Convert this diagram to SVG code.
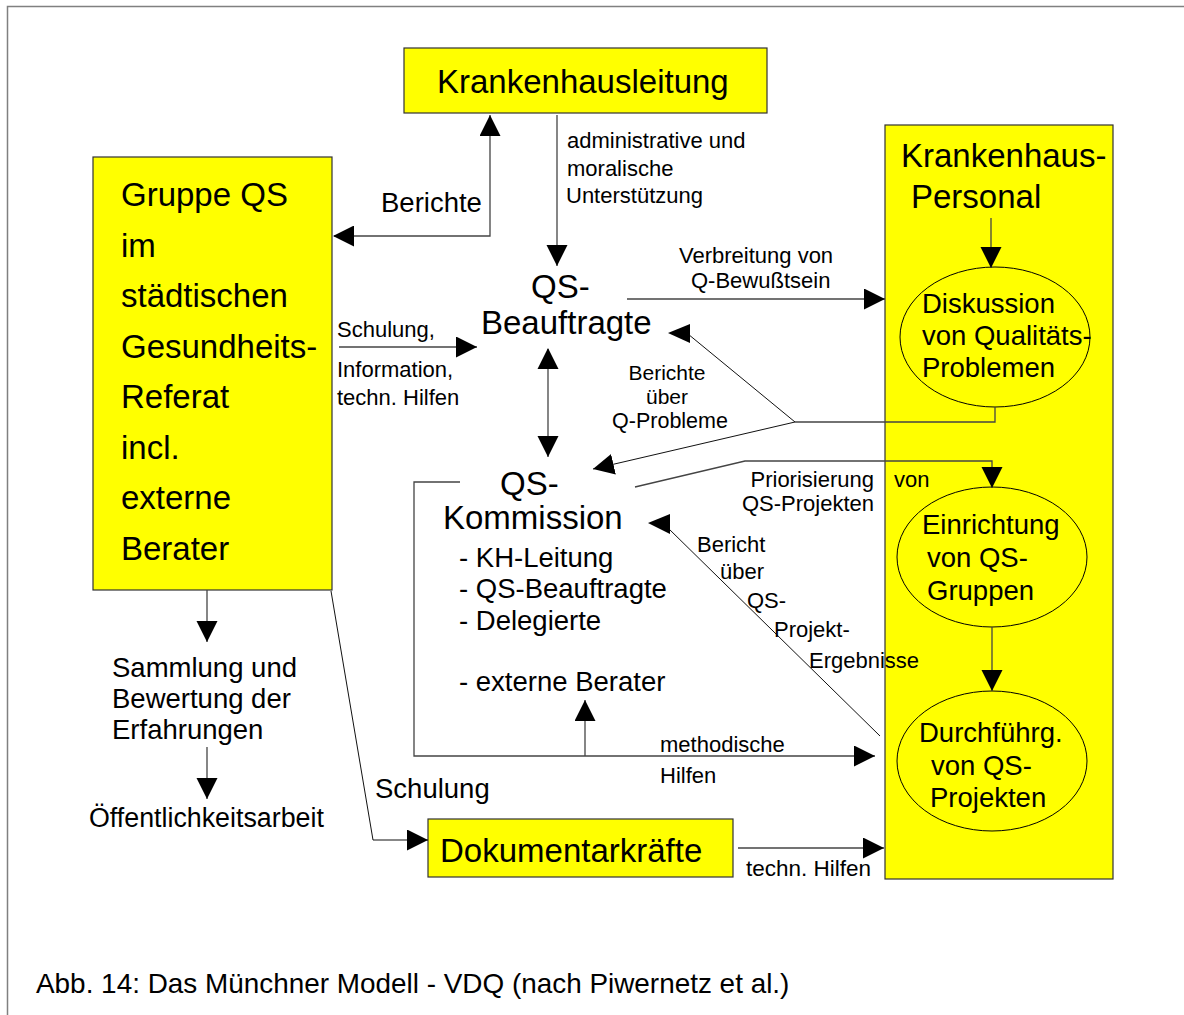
<svg xmlns="http://www.w3.org/2000/svg" width="1184" height="1015" viewBox="0 0 1184 1015">
<defs>
<marker id="ah" markerUnits="userSpaceOnUse" markerWidth="22" markerHeight="22" refX="21" refY="10.5" orient="auto">
<path d="M0,0 L21,10.5 L0,21 z" fill="#000"/>
</marker>
<marker id="ahs" markerUnits="userSpaceOnUse" markerWidth="22" markerHeight="22" refX="1" refY="10.5" orient="auto">
<path d="M21,0 L0,10.5 L21,21 z" fill="#000"/>
</marker>
<style>
text{font-family:"Liberation Sans",Arial,sans-serif;fill:#000}
.big{font-size:33px}
.mid{font-size:27.5px}
.sm{font-size:22px}
.box{fill:#ffff00;stroke:#333;stroke-width:1.2}
.ell{fill:#ffff00;stroke:#000;stroke-width:1}
.ln{fill:none;stroke:#444;stroke-width:1.3}
.thin{fill:none;stroke:#111;stroke-width:1}
</style>
</defs>
<rect width="1184" height="1015" fill="#fff"/>
<path d="M7.5,1015 V6.5 H1184" fill="none" stroke="#808080" stroke-width="1.5"/>

<g id="krankenhausleitung">
<rect class="box" x="404" y="48" width="363" height="65"/>
<text class="big" x="437" y="93">Krankenhausleitung</text>
</g>

<g id="gruppe-qs">
<rect class="box" x="93" y="157" width="239" height="433"/>
<text class="big" x="121" y="206">Gruppe QS</text>
<text class="big" x="121" y="257">im</text>
<text class="big" x="121" y="307">städtischen</text>
<text class="big" x="121" y="358">Gesundheits-</text>
<text class="big" x="121" y="408">Referat</text>
<text class="big" x="121" y="459">incl.</text>
<text class="big" x="121" y="509">externe</text>
<text class="big" x="121" y="560">Berater</text>
</g>

<g id="personal">
<rect class="box" x="885" y="125" width="228" height="754"/>
<text class="big" x="901" y="167">Krankenhaus-</text>
<text class="big" x="911" y="208">Personal</text>
</g>

<g id="diskussion">
<ellipse class="ell" cx="995" cy="337" rx="95" ry="70"/>
<text class="mid" x="922" y="313">Diskussion</text>
<text class="mid" x="922" y="345">von Qualitäts-</text>
<text class="mid" x="922" y="377">Problemen</text>
</g>

<g id="einrichtung">
<ellipse class="ell" cx="992" cy="557" rx="95" ry="70"/>
<text class="mid" x="922" y="534">Einrichtung</text>
<text class="mid" x="927" y="567">von QS-</text>
<text class="mid" x="927" y="600">Gruppen</text>
</g>

<g id="durchfuehrung">
<ellipse class="ell" cx="992" cy="761" rx="95" ry="70"/>
<text class="mid" x="919" y="742">Durchführg.</text>
<text class="mid" x="931" y="775">von QS-</text>
<text class="mid" x="930" y="807">Projekten</text>
</g>

<g id="dokumentarkraefte">
<rect class="box" x="428" y="819" width="305" height="58"/>
<text class="big" x="440" y="862">Dokumentarkräfte</text>
</g>

<g id="qs-beauftragte">
<text class="big" x="531" y="298">QS-</text>
<text class="big" x="481" y="334">Beauftragte</text>
</g>

<g id="qs-kommission">
<text class="big" x="500" y="495">QS-</text>
<text class="big" x="443" y="529">Kommission</text>
<text class="mid" x="459" y="567">- KH-Leitung</text>
<text class="mid" x="459" y="598">- QS-Beauftragte</text>
<text class="mid" x="459" y="630">- Delegierte</text>
<text class="mid" x="459" y="691">- externe Berater</text>
</g>

<g id="sammlung">
<text class="mid" x="112" y="677">Sammlung und</text>
<text class="mid" x="112" y="708">Bewertung der</text>
<text class="mid" x="112" y="739">Erfahrungen</text>
</g>

<g id="oeffentlichkeitsarbeit">
<text class="mid" x="89" y="827" style="font-size:26.8px">Öffentlichkeitsarbeit</text>
</g>

<g id="connectors">
<polyline class="ln" points="334,236 490,236 490,115" marker-start="url(#ahs)" marker-end="url(#ah)"/>
<line class="ln" x1="557" y1="115" x2="557" y2="266" marker-end="url(#ah)"/>
<line class="ln" x1="339" y1="347" x2="477" y2="347" marker-end="url(#ah)"/>
<line class="ln" x1="627" y1="299" x2="885" y2="299" marker-end="url(#ah)"/>
<line class="ln" x1="991" y1="218" x2="991" y2="268" marker-end="url(#ah)"/>
<line class="ln" x1="548" y1="349" x2="548" y2="457" marker-start="url(#ahs)" marker-end="url(#ah)"/>
<polyline class="ln" points="995,407 995,422 795,422"/>
<line class="thin" x1="795" y1="422" x2="688" y2="334"/>
<polygon points="668,333 690,324 690,343" fill="#000"/>
<line class="thin" x1="795" y1="422" x2="593" y2="469" marker-end="url(#ah)"/>
<polyline class="ln" points="635,487 745,461 992,461 992,488" marker-end="url(#ah)"/>
<polyline class="ln" points="460,482 414,482 414,756 875,756" marker-end="url(#ah)"/>
<line class="ln" x1="585" y1="756" x2="585" y2="700" marker-end="url(#ah)"/>
<line class="thin" x1="880" y1="736" x2="668" y2="528"/>
<polygon points="648,523 670,514 670,534" fill="#000"/>
<line class="ln" x1="992" y1="627" x2="992" y2="691" marker-end="url(#ah)"/>
<line class="ln" x1="207" y1="590" x2="207" y2="642" marker-end="url(#ah)"/>
<line class="ln" x1="207" y1="747" x2="207" y2="799" marker-end="url(#ah)"/>
<polyline class="thin" points="331,591 373,840 428,840" marker-end="url(#ah)"/>
<line class="ln" x1="738" y1="848" x2="884" y2="848" marker-end="url(#ah)"/>
</g>

<g id="labels">
<text class="mid" x="381" y="212">Berichte</text>
<text class="sm" x="567" y="148">administrative und</text>
<text class="sm" x="567" y="176">moralische</text>
<text class="sm" x="566" y="203">Unterstützung</text>
<text class="sm" x="679" y="263">Verbreitung von</text>
<text class="sm" x="691" y="288">Q-Bewußtsein</text>
<text class="sm" x="337" y="337">Schulung,</text>
<text class="sm" x="337" y="377">Information,</text>
<text class="sm" x="337" y="405">techn. Hilfen</text>
<text class="sm" x="667" y="380" text-anchor="middle" style="font-size:21px">Berichte</text>
<text class="sm" x="667" y="404" text-anchor="middle" style="font-size:21px">über</text>
<text class="sm" x="670" y="428" text-anchor="middle" style="font-size:21.5px">Q-Probleme</text>
<text class="sm" x="874" y="487" text-anchor="end">Priorisierung</text>
<text class="sm" x="874" y="511" text-anchor="end">QS-Projekten</text>
<text class="sm" x="894" y="487">von</text>
<text class="sm" x="697" y="552">Bericht</text>
<text class="sm" x="720" y="579">über</text>
<text class="sm" x="747" y="608">QS-</text>
<text class="sm" x="774" y="637">Projekt-</text>
<text class="sm" x="809" y="668">Ergebnisse</text>
<text class="sm" x="660" y="752">methodische</text>
<text class="sm" x="660" y="783">Hilfen</text>
<text class="mid" x="375" y="798">Schulung</text>
<text class="sm" x="746" y="876" style="font-size:22.5px">techn. Hilfen</text>
<text class="mid" x="36" y="993" style="font-size:27.9px">Abb. 14: Das Münchner Modell - VDQ (nach Piwernetz et al.)</text>
</g>
</svg>
